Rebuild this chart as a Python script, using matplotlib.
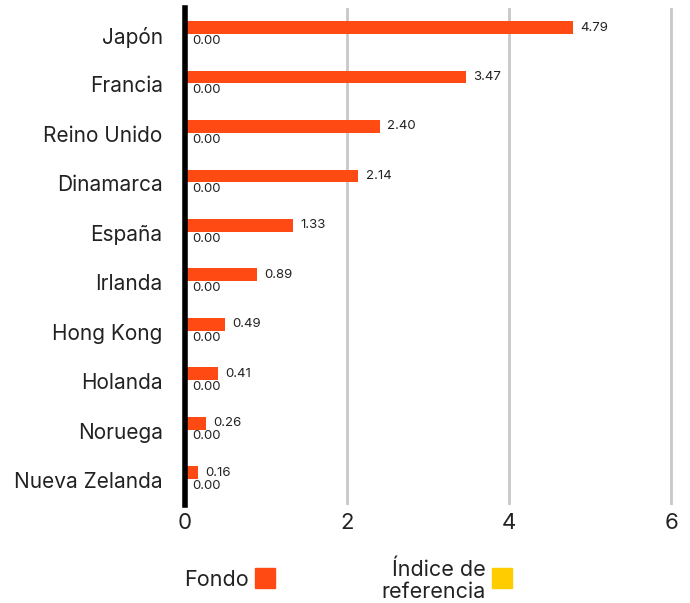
import numpy as np
import matplotlib
matplotlib.use("Agg")
import matplotlib.pyplot as plt
from matplotlib.patches import Rectangle

# Data
countries = ["Japón", "Francia", "Reino Unido", "Dinamarca", "España",
             "Irlanda", "Hong Kong", "Holanda", "Noruega", "Nueva Zelanda"]
fondo = [4.79, 3.47, 2.40, 2.14, 1.33, 0.89, 0.49, 0.41, 0.26, 0.16]
indice = [0.00, 0.00, 0.00, 0.00, 0.00, 0.00, 0.00, 0.00, 0.00, 0.00]
xticks = [0, 2, 4, 6]

fondo_color = "#FF4A14"
indice_color = "#FFCC00"
text_color = "#222222"

plt.rcParams['font.family'] = ['Inter', 'DejaVu Sans']

fig = plt.figure(figsize=(6.9, 6.03), dpi=100)
ax = fig.add_axes([0.268, 0.163, 0.711, 0.824])

y = np.arange(len(countries))
bar_h = 0.26
ax.barh(y - 0.15, fondo, height=bar_h, color=fondo_color, zorder=3)
ax.barh(y + 0.12, indice, height=bar_h, color=indice_color, zorder=3)

for yi, v in zip(y, fondo):
    ax.text(v + 0.09, yi - 0.15, f"{v:.2f}", va="center", ha="left",
            fontsize=9.5, color=text_color)
for yi, v in zip(y, indice):
    ax.text(v + 0.09, yi + 0.12, f"{v:.2f}", va="center", ha="left",
            fontsize=9.5, color=text_color)

ax.set_xlim(0, 6.05)
ax.set_ylim(9.5, -0.55)
ax.set_yticks(y)
ax.set_yticklabels(countries, fontsize=15, color=text_color)
ax.set_xticks(xticks)
ax.set_xticklabels([str(t) for t in xticks], fontsize=16, color=text_color)
ax.tick_params(length=0, pad=6)
ax.tick_params(axis="y", pad=16)

for t in xticks[1:]:
    ax.axvline(t, color="#c8c8c8", lw=2, zorder=1)
ax.axvline(0, color="black", lw=4, zorder=4, clip_on=False)

for s in ax.spines.values():
    s.set_visible(False)

# Legend
fig.text(184 / 690, 1 - 580 / 603, "Fondo", fontsize=15.5, color=text_color,
         ha="left", va="center")
fig.add_artist(Rectangle((255 / 690, 1 - 588 / 603), 20 / 690, 20 / 603,
                         transform=fig.transFigure, color=fondo_color))
fig.text(486 / 690, 1 - 581 / 603, "Índice de\nreferencia", fontsize=15.5,
         color=text_color, ha="right", va="center", linespacing=1.1)
fig.add_artist(Rectangle((492 / 690, 1 - 588 / 603), 20 / 690, 20 / 603,
                         transform=fig.transFigure, color=indice_color))

fig.savefig("out.png", dpi=100)
